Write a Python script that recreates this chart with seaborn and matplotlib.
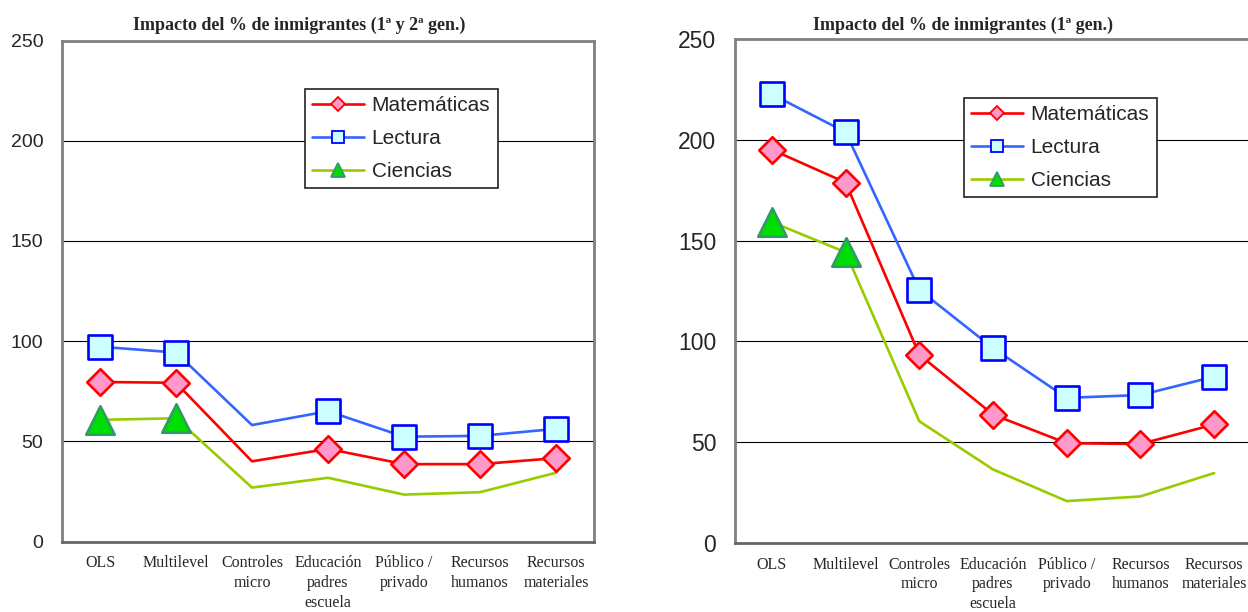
import numpy as np
import pandas as pd
import seaborn as sns
import matplotlib
matplotlib.use("Agg")
import matplotlib.pyplot as plt
from matplotlib.lines import Line2D

# Categories on the x axis (one per model specification)
categorias = ["OLS", "Multilevel", "Controles\nmicro", "Educación\npadres\nescuela",
              "Público /\nprivado", "Recursos\nhumanos", "Recursos\nmateriales"]
asignaturas = ["Matemáticas", "Lectura", "Ciencias"]

# Impact of % immigrants, 1st and 2nd generation
mat_12 = [79.6, 79.2, 40.0, 46.2, 38.6, 38.6, 41.6]
lec_12 = [97.2, 94.3, 58.1, 65.0, 52.3, 52.7, 56.2]
cie_12 = [60.7, 61.5, 26.9, 31.8, 23.4, 24.6, 34.3]

# Impact of % immigrants, 1st generation only
mat_1 = [195.1, 178.8, 93.4, 63.7, 49.5, 49.1, 58.8]
lec_1 = [222.6, 203.8, 125.6, 96.7, 72.0, 73.4, 82.5]
cie_1 = [159.2, 144.2, 60.4, 36.5, 20.8, 23.1, 34.7]

# Which points carry a marker in each panel
marcas_12 = {"Matemáticas": [0, 1, 3, 4, 5, 6], "Lectura": [0, 1, 3, 4, 5, 6], "Ciencias": [0, 1]}
marcas_1 = {"Matemáticas": [0, 1, 2, 3, 4, 5, 6], "Lectura": [0, 1, 2, 3, 4, 5, 6], "Ciencias": [0, 1]}

titulos = ["Impacto del % de inmigrantes (1ª y 2ª gen.)", "Impacto del % de inmigrantes (1ª gen.)"]

sns.set_style("white")
plt.rcParams["font.family"] = ["Liberation Sans", "DejaVu Sans"]

estilo = {
    "Matemáticas": dict(line="#FF0000", marker="D", face="#FF99CC", edge="#FF0000", ms=13.5),
    "Lectura": dict(line="#3366FF", marker="s", face="#CCFFFF", edge="#0000FF", ms=17),
    "Ciencias": dict(line="#99CC00", marker="^", face="#00DD00", edge="#339966", ms=20.5),
}


def tabla(mat, lec, cie):
    filas = []
    for nombre, vals in zip(asignaturas, [mat, lec, cie]):
        for i, v in enumerate(vals):
            filas.append({"pos": i, "valor": v, "asignatura": nombre})
    return pd.DataFrame(filas)


def panel(ax, df, marcas, ytick_size):
    ax.set_facecolor("white")
    ax.yaxis.grid(True, color="black", linewidth=0.8, zorder=0)
    ax.set_axisbelow(True)
    sns.lineplot(data=df, x="pos", y="valor", hue="asignatura", hue_order=asignaturas,
                 palette={k: estilo[k]["line"] for k in asignaturas},
                 linewidth=1.9, legend=False, ax=ax, zorder=2)
    for k in asignaturas:
        st = estilo[k]
        sub = df[(df["asignatura"] == k) & (df["pos"].isin(marcas[k]))]
        sns.scatterplot(data=sub, x="pos", y="valor", marker=st["marker"], s=st["ms"] ** 2,
                        color=st["face"], edgecolor=st["edge"], linewidth=1.9,
                        legend=False, ax=ax, zorder=3)
    ax.set_xlim(-0.5, 6.5)
    ax.set_ylim(0, 250)
    ax.set_yticks(np.arange(0, 251, 50))
    ax.set_xticks(np.arange(len(categorias)))
    ax.set_xticklabels(categorias, fontfamily="Liberation Serif", fontsize=11.5,
                       linespacing=1.3, va="top")
    ax.set_xticks(np.arange(-0.5, len(categorias), 1), minor=True)
    ax.tick_params(axis="x", which="major", length=0, pad=10)
    ax.tick_params(axis="x", which="minor", length=6, width=1, color="#333333", direction="out")
    ax.tick_params(axis="y", length=5, width=1, color="#333333", direction="out",
                   labelsize=ytick_size, pad=8.5)
    ax.set_xlabel("")
    ax.set_ylabel("")
    for s in ax.spines.values():
        s.set_visible(True)
        s.set_color("#808080")
        s.set_linewidth(2)
    ax.spines["bottom"].set_color("#666666")

    handles = [Line2D([], [], color=estilo[k]["line"], linewidth=1.9, marker=estilo[k]["marker"],
                      markersize=estilo[k]["ms"] * 0.5, markerfacecolor=estilo[k]["face"],
                      markeredgecolor=estilo[k]["edge"], markeredgewidth=1.3) for k in asignaturas]
    return handles


fig = plt.figure(figsize=(12.48, 6.12), dpi=100)
W, H = 1248, 612
ax1 = fig.add_axes([62 / W, 1 - 541.5 / H, 532 / W, 501 / H])
ax2 = fig.add_axes([735 / W, 1 - 543 / H, 516 / W, 504 / H])

h1 = panel(ax1, tabla(mat_12, lec_12, cie_12), marcas_12, 14)
h2 = panel(ax2, tabla(mat_1, lec_1, cie_1), marcas_1, 16.5)

for ax, hs, (lx, ly) in [(ax1, h1, (305, 89)), (ax2, h2, (964, 98))]:
    leg = ax.legend(hs, asignaturas, loc="upper left", bbox_to_anchor=(lx / W, 1 - ly / H),
                    bbox_transform=fig.transFigure, frameon=True, fancybox=False,
                    fontsize=15, handlelength=2.5, handletextpad=0.35, labelspacing=0.66,
                    borderpad=0.35, borderaxespad=0)
    leg.get_frame().set_edgecolor("#222222")
    leg.get_frame().set_linewidth(1.2)
    leg.get_frame().set_alpha(1)

fig.text(299 / W, 1 - 25 / H, titulos[0], ha="center", va="center",
         fontfamily="Liberation Serif", fontweight="bold", fontsize=13)
fig.text(963 / W, 1 - 25 / H, titulos[1], ha="center", va="center",
         fontfamily="Liberation Serif", fontweight="bold", fontsize=13)

fig.savefig("out.png", dpi=100, facecolor="white")
